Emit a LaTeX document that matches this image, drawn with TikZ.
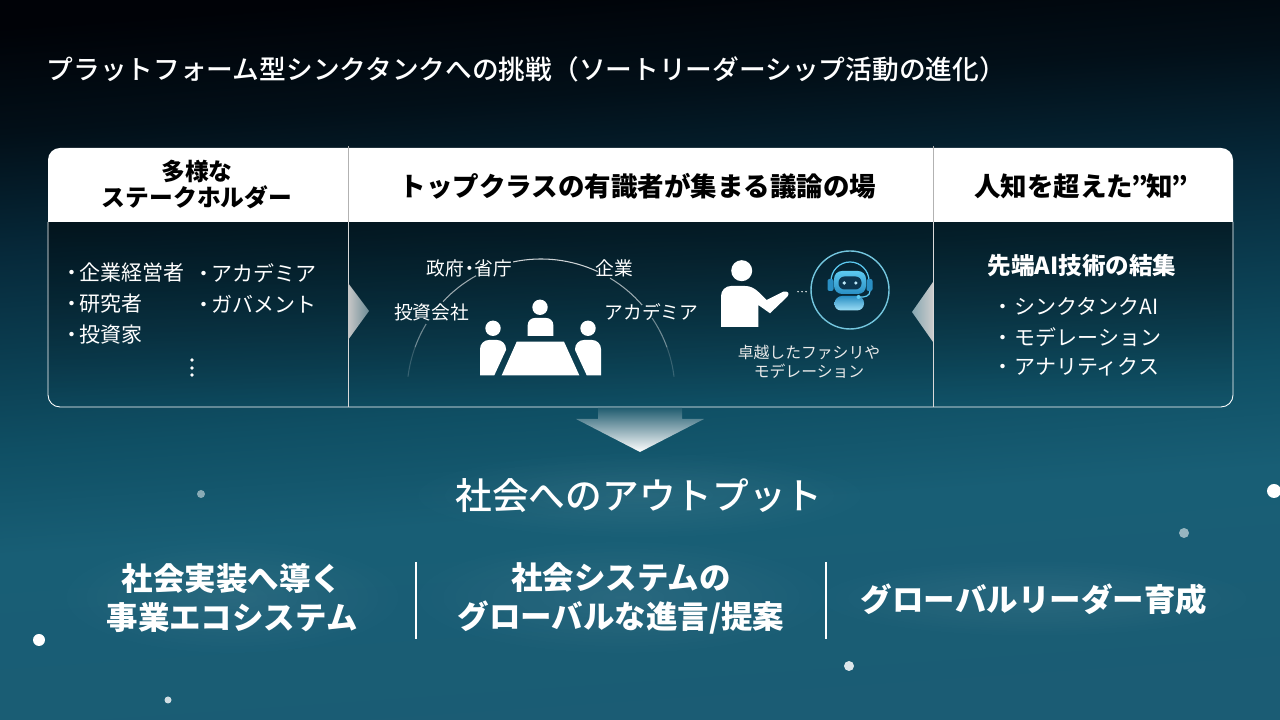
\documentclass[tikz,border=0pt]{standalone}
\usepackage{fontspec}
\setmainfont{Noto Sans CJK JP}
\newfontfamily\mediumjp{Noto Sans CJK JP Medium}
\usetikzlibrary{calc,fadings}
\definecolor{bgA}{HTML}{000207}
\definecolor{bgB}{HTML}{020F18}
\definecolor{bgC}{HTML}{06293A}
\definecolor{bgD}{HTML}{0F4F64}
\definecolor{bgE}{HTML}{185E75}
\definecolor{bgF}{HTML}{1B5C74}
\definecolor{robotA}{HTML}{5CC9F0}
\definecolor{robotB}{HTML}{2A8FC4}
\definecolor{robotface}{HTML}{0C3650}
\definecolor{ringline}{HTML}{74C6DE}
\pgfdeclareverticalshading{bgshade}{100bp}{color(0bp)=(bgF); color(25bp)=(bgF); color(40bp)=(bgE); color(47bp)=(bgD); color(60bp)=(bgC); color(68bp)=(bgB); color(75bp)=(bgA); color(100bp)=(bgA)}
\tikzfading[name=softglow, inner color=transparent!0, outer color=transparent!100]
\newcommand{\dotl}{\makebox[0.76em][c]{・}}
\newcommand{\dotr}{\makebox[1.14em][c]{・}}
\tikzset{
	titletext/.style={font=\fontsize{7.6}{9}\selectfont\mediumjp, text=white, inner sep=0},
	headtext/.style={font=\fontsize{7.54}{7.6}\selectfont\bfseries, text=black, inner sep=0, align=center},
	listtext/.style={font=\fontsize{5.97}{7}\selectfont, text=white, inner sep=0, anchor=west},
	seattext/.style={font=\fontsize{5.33}{6}\selectfont, text=white, inner sep=0},
	smalltext/.style={font=\fontsize{4.5}{5.4}\selectfont, text=white!92!black, inner sep=0, align=center},
	outtext/.style={font=\fontsize{8.96}{11.1}\selectfont\bfseries, text=white, inner sep=0, align=center},
	sidearrow/.style={draw=none},
	hallarc/.style={white, line width=0.3pt},
	icon/.style={fill=white, draw=none},
	spark/.style={fill=white, draw=none}
}

\begin{document}
\begin{tikzpicture}
	%%%%% background %%%%%
	\useasboundingbox (0, 0) rectangle (12.8, 7.2);
	\clip (0, 0) rectangle (12.8, 7.2);
	\shade[shading=bgshade, shading angle=4] (0, 0) rectangle (12.8, 7.2);

	\foreach \sx/\sy/\sr/\so in {2.01/2.26/0.04/0.5, 12.74/2.29/0.07/1, 11.84/1.87/0.05/0.55, 0.39/0.8/0.06/1, 8.49/0.54/0.05/0.85, 1.68/0.2/0.035/0.8}
		\fill[spark, fill opacity=\so] (\sx, \sy) circle (\sr);

	\node[titletext, anchor=west] (maintitle) at (0.46, 6.51) {プラットフォーム型シンクタンクへの挑戦（ソートリーダーシップ活動の進化）};

	%%%%% panel %%%%%
	\fill[black, fill opacity=0.42, path fading=south] (0.48, 4.98) [rounded corners=0.12cm] -- (0.48, 3.13) -- (12.33, 3.13) [sharp corners] -- (12.33, 4.98) -- cycle;
	\fill[white] (0.48, 4.98) [rounded corners=0.12cm] -- (0.48, 5.72) -- (12.33, 5.72) [sharp corners] -- (12.33, 4.98) -- cycle;
	\draw[white, line width=0.25pt, rounded corners=0.12cm] (0.48, 4.98) -- (0.48, 3.13) -- (12.33, 3.13) -- (12.33, 4.98);
	\draw[white!70!black, line width=0.25pt] (3.48, 4.98) -- (3.48, 5.74);
	\draw[white!70!black, line width=0.25pt] (9.33, 4.98) -- (9.33, 5.74);
	\draw[white!85!black, line width=0.25pt] (3.48, 4.98) -- (3.48, 3.13);
	\draw[white!85!black, line width=0.25pt] (9.33, 4.98) -- (9.33, 3.13);

	\node[headtext, font=\fontsize{6.76}{7.4}\selectfont\bfseries] (headstake) at (1.97, 5.35) {多様な\\ステークホルダー};
	\node[headtext] (headroom) at (6.38, 5.34) {トップクラスの有識者が集まる議論の場};
	\node[headtext] (headknow) at (10.8, 5.34) {人知を超えた\makebox[0.5em][c]{”}知\makebox[0.5em][c]{”}};

	%%%%% stakeholders %%%%%
	\node[listtext] (stakeA) at (0.63, 4.47) {\dotl 企業経営者};
	\node[listtext] (stakeB) at (0.63, 4.16) {\dotl 研究者};
	\node[listtext] (stakeC) at (0.63, 3.85) {\dotl 投資家};
	\node[listtext] (stakeD) at (1.95, 4.47) {\dotl アカデミア};
	\node[listtext] (stakeE) at (1.95, 4.16) {\dotl ガバメント};
	\fill[white] (1.92, 3.6) circle (0.018);
	\fill[white] (1.92, 3.52) circle (0.018);
	\fill[white] (1.92, 3.45) circle (0.018);

	\shade[left color=white!78!black, right color=black!20!bgD!60!white, sidearrow] (3.48, 4.37) -- (3.69, 4.09) -- (3.48, 3.8) -- cycle;
	\shade[left color=bgD!50!white, right color=white!80!black, sidearrow] (9.33, 4.38) -- (9.12, 4.08) -- (9.33, 3.78) -- cycle;

	%%%%% meeting %%%%%
	\coordinate (hall) at (5.41, 3.27);
	\foreach \aa/\ab/\ao in {7/20/0.18, 20/34/0.42, 41/59/0.6, 65/102/0.8, 119/137/0.6, 149/160/0.42, 160/173/0.18}
		\draw[hallarc, draw opacity=\ao] (hall) ++(\aa:1.34) arc (\aa:\ab:1.34);

	\node[seattext] (seatA) at (4.695, 4.52) {政府\makebox[0.55em][c]{・}省庁};
	\node[seattext] (seatB) at (6.14, 4.52) {企業};
	\node[seattext] (seatC) at (4.315, 4.08) {投資会社};
	\node[seattext] (seatD) at (6.515, 4.08) {アカデミア};

	\fill[icon] (5.4, 4.127) circle (0.077);
	\fill[icon] (5.277, 3.84) -- (5.277, 3.95) arc (180:90:0.07) -- (5.463, 4.02) arc (90:0:0.07) -- (5.533, 3.84) -- cycle;
	\fill[icon] (4.93, 3.917) circle (0.077);
	\fill[icon] (4.8, 3.447) -- (4.8, 3.71) arc (180:90:0.09) -- (4.97, 3.8) arc (90:0:0.09) -- (5.06, 3.7) -- (4.943, 3.447) -- cycle;
	\fill[icon] (5.88, 3.917) circle (0.077);
	\fill[icon] (6.01, 3.447) -- (6.01, 3.71) arc (0:90:0.09) -- (5.84, 3.8) arc (90:180:0.09) -- (5.75, 3.7) -- (5.867, 3.447) -- cycle;
	\fill[icon] (5.167, 3.783) -- (5.64, 3.783) -- (5.793, 3.447) -- (5.017, 3.447) -- cycle;

	%%%%% moderator %%%%%
	\fill[icon] (7.417, 4.493) circle (0.105);
	\fill[icon] (7.21, 3.93) -- (7.21, 4.24) arc (180:90:0.1) -- (7.45, 4.34) .. controls (7.55, 4.34) and (7.6, 4.26) .. (7.667, 4.2) -- (7.833, 4.283) .. controls (7.88, 4.29) and (7.9, 4.27) .. (7.873, 4.233) -- (7.7, 4.067) -- (7.583, 4.15) -- (7.583, 3.93) -- cycle;
	\fill[white] (7.98, 4.283) circle (0.008);
	\fill[white] (8.02, 4.283) circle (0.008);
	\fill[white] (8.06, 4.283) circle (0.008);

	\coordinate (robot) at (8.5, 4.3);
	\draw[ringline, line width=0.4pt, fill=robotface!70!black, fill opacity=0.35] (robot) circle (0.39);
	\draw[robotA, line width=0.35pt] ($(robot)+(-0.19, 0.09)$) arc (180:0:0.19);
	\fill[robotB, rounded corners=0.02cm] ($(robot)+(-0.225, -0.01)$) rectangle ($(robot)+(-0.165, 0.11)$);
	\fill[robotB, rounded corners=0.02cm] ($(robot)+(0.165, -0.01)$) rectangle ($(robot)+(0.225, 0.11)$);
	\shade[top color=robotA, bottom color=robotB, rounded corners=0.08cm] ($(robot)+(-0.16, -0.04)$) rectangle ($(robot)+(0.16, 0.19)$);
	\fill[robotface, rounded corners=0.06cm] ($(robot)+(-0.115, 0.005)$) rectangle ($(robot)+(0.115, 0.135)$);
	\fill[robotA!40!white] ($(robot)+(-0.058, 0.07)$) circle (0.018);
	\fill[robotA!40!white] ($(robot)+(0.058, 0.07)$) circle (0.018);
	\shade[top color=robotB, bottom color=robotA!60!white, rounded corners=0.07cm] ($(robot)+(-0.16, -0.205)$) -- ($(robot)+(-0.15, -0.06)$) -- ($(robot)+(0.14, -0.06)$) -- ($(robot)+(0.14, -0.205)$) -- cycle;
	\draw[robotA, line width=0.35pt] ($(robot)+(0.2, -0.01)$) .. controls ($(robot)+(0.2, -0.06)$) and ($(robot)+(0.15, -0.075)$) .. ($(robot)+(0.09, -0.07)$);
	\fill[robotA] ($(robot)+(0.085, -0.07)$) circle (0.02);

	\node[smalltext] (modlabel) at (8.09, 3.58) {卓越したファシリや\\モデレーション};

	%%%%% ai side %%%%%
	\node[listtext, font=\fontsize{6.7}{7}\selectfont\bfseries, anchor=center] (aihead) at (10.82, 4.54) {先端AI技術の結集};
	\node[listtext] (aiA) at (9.9, 4.14) {\dotr シンクタンクAI};
	\node[listtext] (aiB) at (9.9, 3.83) {\dotr モデレーション};
	\node[listtext] (aiC) at (9.9, 3.53) {\dotr アナリティクス};

	%%%%% output %%%%%
	\shade[top color=bgD!92!white, bottom color=white, draw=none] (5.98, 3.12) -- (5.98, 3.01) -- (5.76, 3.01) -- (6.4, 2.68) -- (7.04, 3.01) -- (6.82, 3.01) -- (6.82, 3.12) -- cycle;

	\fill[white, fill opacity=0.07, path fading=softglow] (6.39, 2.25) ellipse (2.4 and 0.45);
	\fill[white, fill opacity=0.07, path fading=softglow] (2.32, 1.23) ellipse (1.8 and 0.6);
	\fill[white, fill opacity=0.07, path fading=softglow] (6.21, 1.23) ellipse (2.2 and 0.6);
	\fill[white, fill opacity=0.07, path fading=softglow] (10.34, 1.22) ellipse (2.3 and 0.4);

	\node[outtext, font=\fontsize{10.44}{12}\selectfont\mediumjp] (outhead) at (6.39, 2.24) {社会へのアウトプット};
	\node[outtext] (outA) at (2.32, 1.22) {社会実装へ導く\\事業エコシステム};
	\node[outtext] (outB) at (6.21, 1.22) {社会システムの\\グローバルな進言/提案};
	\node[outtext] (outC) at (10.34, 1.21) {グローバルリーダー育成};

	\draw[white, line width=0.55pt] (4.16, 1.58) -- (4.16, 0.81);
	\draw[white, line width=0.55pt] (8.26, 1.58) -- (8.26, 0.81);
\end{tikzpicture}
\end{document}
